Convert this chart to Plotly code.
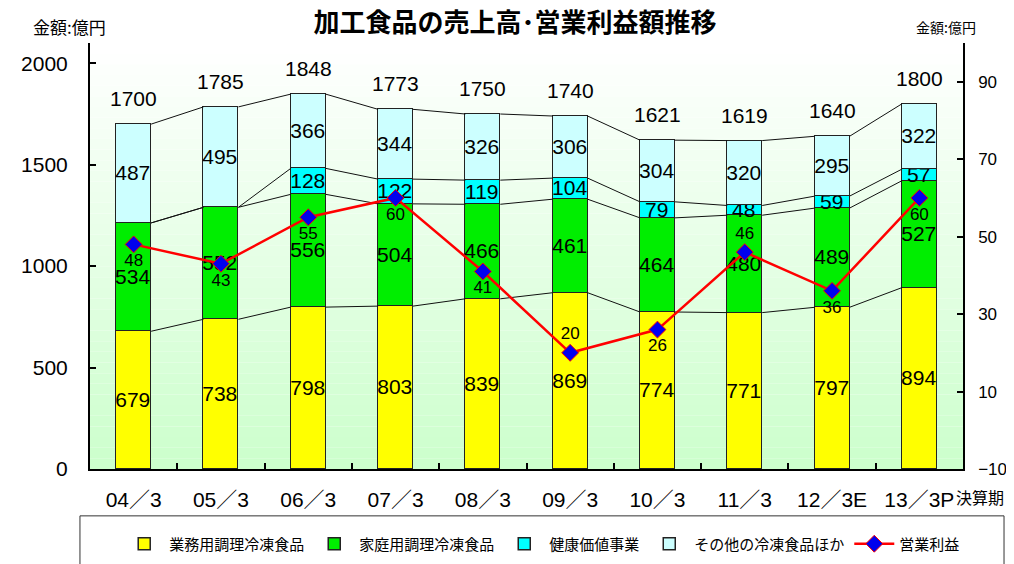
import plotly.graph_objects as go

periods = ["04／3", "05／3", "06／3", "07／3", "08／3", "09／3", "10／3", "11／3", "12／3E", "13／3P"]
business = [679, 738, 798, 803, 839, 869, 774, 771, 797, 894]
household = [534, 552, 556, 504, 466, 461, 464, 480, 489, 527]
health = [None, None, 128, 122, 119, 104, 79, 48, 59, 57]
others = [487, 495, 366, 344, 326, 306, 304, 320, 295, 322]
totals = [1700, 1785, 1848, 1773, 1750, 1740, 1621, 1619, 1640, 1800]
profit = [48, 43, 55, 60, 41, 20, 26, 46, 36, 60]
profit_pos = ["bottom center", "bottom center", "bottom center", "bottom center", "bottom center",
              "top center", "bottom center", "top center", "bottom center", "bottom center"]

FONT = "Liberation Sans, Arial, Noto Sans CJK JP"
JP = "Noto Sans CJK JP, Liberation Sans"
BAR_W = 0.4
xs = list(range(len(periods)))

series = [
    ("業務用調理冷凍食品", business, "#ffff00"),
    ("家庭用調理冷凍食品", household, "#00ee00"),
    ("健康価値事業", health, "#00ffff"),
    ("その他の冷凍食品ほか", others, "#ccffff"),
]

fig = go.Figure()

# connector lines between bar levels
levels = []
run = [0] * len(xs)
for _, vals, _ in series:
    run = [r + (v or 0) for r, v in zip(run, vals)]
    levels.append(list(run))
cx, cy = [], []
for lev in levels:
    for i in range(len(xs) - 1):
        cx += [xs[i] + BAR_W / 2, xs[i + 1] - BAR_W / 2, None]
        cy += [lev[i], lev[i + 1], None]
fig.add_trace(go.Scatter(x=cx, y=cy, mode="lines", line={"color": "#111", "width": 1},
                         showlegend=False, hoverinfo="skip"))

for name, vals, color in series:
    fig.add_trace(go.Bar(
        x=xs, y=vals, name=name, width=BAR_W,
        marker={"color": color, "line": {"color": "#222", "width": 1.5}},
        text=[str(v) if v else "" for v in vals], textposition="inside",
        insidetextanchor="middle", textangle=0,
        textfont={"size": 21, "color": "black", "family": FONT},
    ))

fig.add_trace(go.Scatter(
    x=xs, y=profit, yaxis="y2", name="営業利益", mode="lines+markers+text",
    line={"color": "#ff0000", "width": 2.5},
    marker={"symbol": "diamond", "size": 13, "color": "#0000ee", "line": {"color": "#ff0000", "width": 1}},
    text=[str(p) for p in profit], textposition=profit_pos,
    textfont={"size": 17, "color": "black", "family": FONT},
))

# invisible trace for boundary ticks axis
fig.add_trace(go.Scatter(x=[0], y=[0], xaxis="x2", mode="markers", marker={"opacity": 0},
                         showlegend=False, hoverinfo="skip"))

for x, t in zip(xs, totals):
    fig.add_annotation(x=x, y=t, text=str(t), showarrow=False, yanchor="bottom", yshift=12,
                       font={"size": 21, "family": FONT})

# vertical gradient background of plot area
n = 40
for k in range(n):
    t = k / (n - 1)
    r = round(255 + (204 - 255) * (1 - t))
    fig.add_shape(type="rect", xref="paper", yref="paper", x0=0, x1=1, y0=k / n, y1=(k + 1) / n,
                  fillcolor=f"rgb({r},255,{r})", line_width=0, layer="below")

# legend frame
fig.add_shape(type="rect", xref="paper", yref="paper", x0=-0.0115, x1=1.047, y0=-0.30, y1=-0.110,
              line={"color": "#333", "width": 1}, fillcolor="white", layer="below")

# the page body adds an 8px offset, margins compensate for it
fig.update_layout(
    width=1014, height=564,
    margin={"l": 82, "r": 59, "t": 35, "b": 103},
    paper_bgcolor="white", plot_bgcolor="rgba(0,0,0,0)",
    barmode="stack", bargap=0,
    font={"family": FONT, "color": "black"},
    uniformtext={"minsize": 21, "mode": "show"},
    showlegend=True,
    legend={"orientation": "h", "x": 0.518, "xanchor": "center",
            "y": -0.176, "yanchor": "middle",
            "font": {"size": 15, "family": JP}, "bgcolor": "rgba(0,0,0,0)", "traceorder": "normal",
            "itemwidth": 40},
    title={"text": "<b>加工食品の売上高･営業利益額推移</b>", "x": 0.5, "xanchor": "center",
           "xref": "container", "y": 0.9734, "yref": "container", "yanchor": "middle",
           "font": {"size": 26, "family": JP}},
    xaxis={"range": [-0.5, 9.5], "tickvals": xs, "ticktext": periods, "ticks": "",
           "showline": True, "linecolor": "black", "linewidth": 2, "showgrid": False, "zeroline": False,
           "tickfont": {"size": 21, "family": FONT}, "ticklabelstandoff": 11},
    xaxis2={"range": [-0.5, 9.5], "overlaying": "x", "anchor": "y", "side": "bottom",
            "tickvals": [i + 0.5 for i in xs], "ticks": "inside", "ticklen": 6, "tickwidth": 2,
            "tickcolor": "black", "showticklabels": False, "showgrid": False, "zeroline": False,
            "showline": False},
    yaxis={"range": [0, 2100], "tickvals": [0, 500, 1000, 1500, 2000], "ticks": "inside",
           "ticklen": 6, "tickwidth": 2, "tickcolor": "black",
           "showline": True, "linecolor": "black", "linewidth": 2, "showgrid": False, "zeroline": False,
           "tickfont": {"size": 21, "family": FONT}, "ticklabelstandoff": 16},
    yaxis2={"range": [-10, 100], "overlaying": "y", "side": "right",
            "tickvals": [-10, 10, 30, 50, 70, 90], "ticks": "inside", "ticklen": 6, "tickwidth": 1.5,
            "tickcolor": "black", "showline": True, "linecolor": "black", "linewidth": 1.5,
            "showgrid": False, "zeroline": False, "tickfont": {"size": 17, "family": FONT},
            "ticklabelstandoff": 10},
)

fig.add_annotation(text="金額:億円", xref="paper", yref="paper", x=-0.023, y=1.038,
                   xanchor="center", yanchor="middle", showarrow=False,
                   font={"size": 17, "family": JP})
fig.add_annotation(text="金額:億円", xref="paper", yref="paper", x=0.981, y=1.038,
                   xanchor="center", yanchor="middle", showarrow=False,
                   font={"size": 14, "family": JP})
fig.add_annotation(text="決算期", xref="paper", yref="paper", x=1.02, y=-0.066,
                   xanchor="center", yanchor="middle", showarrow=False,
                   font={"size": 16, "family": JP})

fig.write_html("out.html")
